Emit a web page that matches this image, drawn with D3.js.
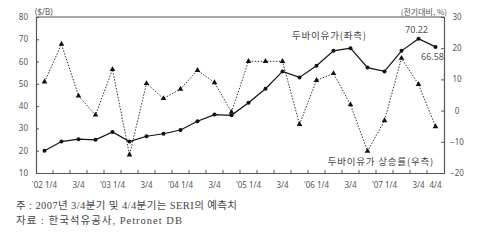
<!DOCTYPE html>
<html>
<head>
<meta charset="utf-8">
<script src="https://cdn.jsdelivr.net/npm/d3@7"></script>
<style>
  body { margin: 0; background: #fff; }
</style>
</head>
<body>
<div id="chart"></div>
<script>
// quarters '02 1/4 .. '07 4/4
var quarters = ["02Q1","02Q2","02Q3","02Q4","03Q1","03Q2","03Q3","03Q4",
  "04Q1","04Q2","04Q3","04Q4","05Q1","05Q2","05Q3","05Q4",
  "06Q1","06Q2","06Q3","06Q4","07Q1","07Q2","07Q3","07Q4"];

// Dubai oil price ($/B), left axis
var dubaiPrice = [20.0, 24.1, 25.2, 24.9, 28.4, 24.1, 26.5, 27.6,
  29.3, 33.2, 36.2, 35.9, 41.5, 47.8, 55.6, 52.9,
  58.1, 64.8, 66.0, 57.3, 55.6, 64.8, 70.22, 66.58];

// quarter-on-quarter change (%), right axis
var dubaiChange = [9.2, 21.3, 4.7, -1.4, 13.2, -14.2, 8.7, 3.9,
  6.9, 12.9, 9.0, -0.5, 15.8, 15.8, 15.8, -4.4,
  9.7, 11.9, 1.9, -13.0, -3.2, 16.8, 8.4, -5.1];

var xLabels = {"02Q1": "'02 1/4", "02Q3": "3/4", "03Q1": "'03 1/4", "03Q3": "3/4",
  "04Q1": "'04 1/4", "04Q3": "3/4", "05Q1": "'05 1/4", "05Q3": "3/4",
  "06Q1": "'06 1/4", "06Q3": "3/4", "07Q1": "'07 1/4", "07Q3": "3/4", "07Q4": "4/4"};

var leftTicks = [10, 20, 30, 40, 50, 60, 70, 80];
var rightTicks = [-20, -10, 0, 10, 20, 30];

var W = 480, H = 246;
var marginLeft = 36, marginRight = 36, marginTop = 17, marginBottom = 73;
var width = W - marginLeft - marginRight;
var height = H - marginTop - marginBottom;

var svg = d3.select('#chart')
  .append('svg')
  .attr('width', W)
  .attr('height', H)
  .style('font-family', '"Noto Sans", "Noto Sans CJK KR", sans-serif');

var g = svg.append('g')
  .attr('transform', 'translate(' + marginLeft + ',' + marginTop + ')');

var x = d3.scaleBand().domain(quarters).range([0, width]).padding(0);
var yL = d3.scaleLinear().domain([10, 80]).range([height, 0]);
var yR = d3.scaleLinear().domain([-20, 30]).range([height, 0]);
var cx = function(q) { return x(q) + x.bandwidth() / 2; };

var axisColor = '#555';
var textColor = '#555';

// frame
g.append('line').attr('x1', 0).attr('x2', width).attr('y1', 0).attr('y2', 0)
  .attr('stroke', axisColor).attr('stroke-width', 1.2);

// left axis
var leftAxis = g.append('g')
  .call(d3.axisLeft(yL).tickValues(leftTicks).tickSize(-3).tickPadding(8));
// right axis
var rightAxis = g.append('g')
  .attr('transform', 'translate(' + width + ',0)')
  .call(d3.axisRight(yR).tickValues(rightTicks).tickSize(-3).tickPadding(9)
    .tickFormat(function(d) { return d < 0 ? '\u2212' + Math.abs(d) : d; }));
// bottom axis: ticks at quarter boundaries
var bottomAxis = g.append('g')
  .attr('transform', 'translate(0,' + height + ')')
  .call(d3.axisBottom(x).tickSize(0).tickPadding(9)
    .tickFormat(function(d) { return xLabels[d] || ''; }));
bottomAxis.selectAll('.tick')
  .filter(function(d, i) { return i > 0; })
  .append('line')
  .attr('x1', -x.bandwidth() / 2).attr('x2', -x.bandwidth() / 2)
  .attr('y1', 0).attr('y2', -3)
  .attr('stroke', axisColor);

[leftAxis, rightAxis, bottomAxis].forEach(function(a) {
  a.select('.domain').attr('stroke', axisColor).attr('stroke-width', 1.2);
  a.selectAll('.tick line').attr('stroke', axisColor);
  a.selectAll('text').attr('fill', textColor).style('font-size', '8px')
    .style('font-family', '"Noto Sans", sans-serif');
});
rightAxis.selectAll('text').attr('text-anchor', 'middle').attr('dx', 4);

// dotted change line
var lineR = d3.line()
  .x(function(d, i) { return cx(quarters[i]); })
  .y(function(d) { return yR(d); });
g.append('path')
  .datum(dubaiChange)
  .attr('fill', 'none')
  .attr('stroke', '#333')
  .attr('stroke-width', 1)
  .attr('stroke-dasharray', '1.5,1.5')
  .attr('d', lineR);
g.selectAll('.tri')
  .data(dubaiChange)
  .enter().append('path')
  .attr('class', 'tri')
  .attr('d', d3.symbol().type(d3.symbolTriangle).size(14))
  .attr('transform', function(d, i) {
    return 'translate(' + cx(quarters[i]) + ',' + yR(d) + ')';
  })
  .attr('fill', '#111');

// price line
var lineL = d3.line()
  .x(function(d, i) { return cx(quarters[i]); })
  .y(function(d) { return yL(d); });
g.append('path')
  .datum(dubaiPrice)
  .attr('fill', 'none')
  .attr('stroke', '#111')
  .attr('stroke-width', 1.2)
  .attr('d', lineL);
g.selectAll('.dot')
  .data(dubaiPrice)
  .enter().append('circle')
  .attr('class', 'dot')
  .attr('cx', function(d, i) { return cx(quarters[i]); })
  .attr('cy', function(d) { return yL(d); })
  .attr('r', 2)
  .attr('fill', '#111');

// value labels for last two quarters
var n = quarters.length;
g.append('text')
  .attr('x', cx(quarters[n - 2]) - 2)
  .attr('y', yL(dubaiPrice[n - 2]) - 6)
  .attr('text-anchor', 'middle')
  .attr('fill', textColor)
  .style('font-size', '9px')
  .text(dubaiPrice[n - 2].toFixed(2));
g.append('text')
  .attr('x', cx(quarters[n - 1]) - 3)
  .attr('y', yL(dubaiPrice[n - 1]) + 13)
  .attr('text-anchor', 'middle')
  .attr('fill', textColor)
  .style('font-size', '9px')
  .text(dubaiPrice[n - 1].toFixed(2));

// unit labels
svg.append('text')
  .attr('x', 35).attr('y', 15)
  .attr('fill', textColor)
  .style('font-size', '8px')
  .text('($/B)');
svg.append('text')
  .attr('x', 447).attr('y', 15)
  .attr('text-anchor', 'end')
  .attr('fill', textColor)
  .style('font-family', '"Noto Sans CJK KR", sans-serif')
  .style('font-size', '8px')
  .text('(전기대비, %)');

// series labels
svg.append('text')
  .attr('x', 292).attr('y', 39)
  .attr('fill', '#444')
  .style('font-family', '"Noto Sans CJK KR", sans-serif')
  .style('font-size', '9.5px')
  .style('letter-spacing', '0.8px')
  .text('두바이유가(좌측)');
svg.append('text')
  .attr('x', 434).attr('y', 165)
  .attr('text-anchor', 'end')
  .attr('fill', '#444')
  .style('font-family', '"Noto Sans CJK KR", sans-serif')
  .style('font-size', '9.5px')
  .style('letter-spacing', '0.8px')
  .text('두바이유가 상승률(우측)');

// footnotes
var noteFont = '"Liberation Serif", "Noto Sans CJK KR", serif';
svg.append('text')
  .attr('x', 16).attr('y', 209)
  .attr('fill', '#444')
  .style('font-family', noteFont)
  .style('font-size', '10.5px')
  .style('letter-spacing', '0.4px')
  .text('주 : 2007년 3/4분기 및 4/4분기는 SERI의 예측치');
svg.append('text')
  .attr('x', 16).attr('y', 224)
  .attr('fill', '#444')
  .style('font-family', noteFont)
  .style('font-size', '10.5px')
  .style('letter-spacing', '1px')
  .text('자료 : 한국석유공사, Petronet DB');
</script>
</body>
</html>
